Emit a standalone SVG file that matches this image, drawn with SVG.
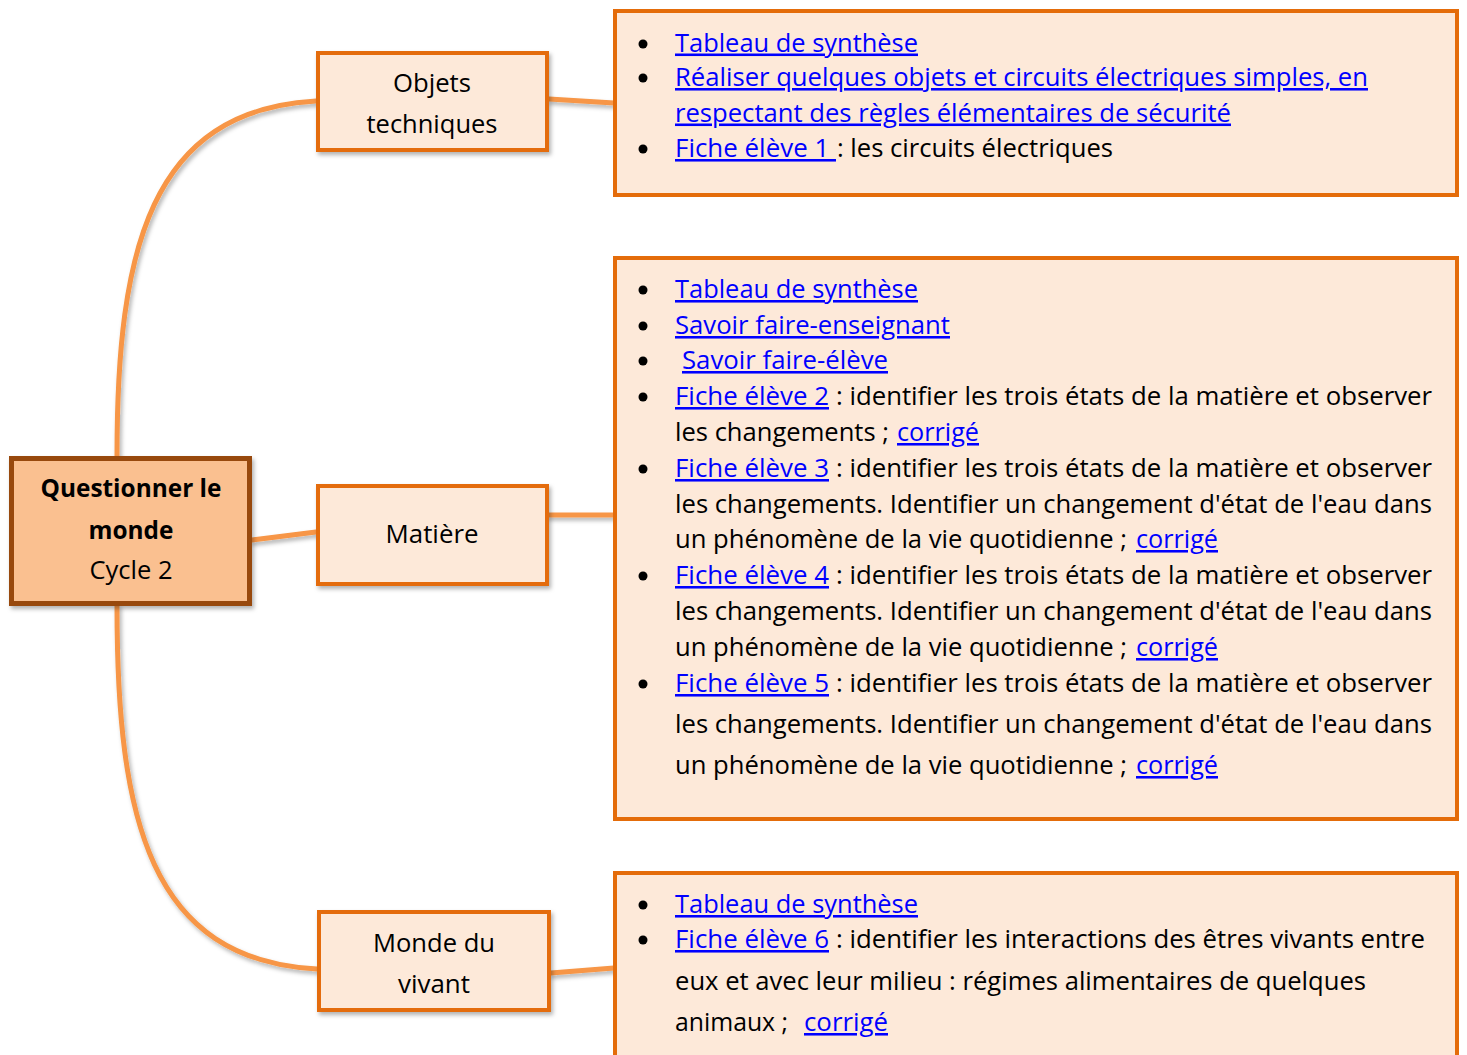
<svg xmlns="http://www.w3.org/2000/svg" width="1467" height="1055" viewBox="0 0 1467 1055">
<defs>
<style>
text{font-family:"Open Sans","Liberation Sans",sans-serif;font-size:25.5px;fill:#000000}
.a{fill:#0000FF;text-decoration:underline}
.c{text-anchor:middle}
.b{font-weight:bold}
.node{fill:#FDE9D9;stroke:#E46C0A;stroke-width:4}
.list{fill:#FDE9D9;stroke:#E46C0A;stroke-width:4}
.root{fill:#FAC090;stroke:#984807;stroke-width:5}
.conn{fill:none;stroke:#F79646;stroke-width:5;stroke-linecap:round}
.dot{fill:#000000}
</style>
<filter id="sh" x="-20%" y="-20%" width="140%" height="140%">
<feDropShadow dx="2" dy="3" stdDeviation="2" flood-color="#000000" flood-opacity="0.3"/>
</filter>
</defs>
<rect width="1467" height="1055" fill="#FFFFFF"/>

<g id="connectors" filter="url(#sh)">
<path class="conn" d="M117,456 C117,250 150,110 316,101"/>
<path class="conn" d="M117,606 C117,820 150,960 317,969"/>
<path class="conn" d="M252,540 L316,532"/>
<path class="conn" d="M549,99 L614,103"/>
<path class="conn" d="M548,515 L614,515"/>
<path class="conn" d="M551,973 L614,968"/>
</g>

<g id="root">
<rect class="root" x="11.5" y="458.5" width="238" height="145" filter="url(#sh)"/>
<text class="c b" x="131" y="497" textLength="181" lengthAdjust="spacingAndGlyphs">Questionner le</text>
<text class="c b" x="131" y="539" textLength="85" lengthAdjust="spacingAndGlyphs">monde</text>
<text class="c" x="131" y="579" textLength="83" lengthAdjust="spacingAndGlyphs">Cycle 2</text>
</g>

<g id="objets">
<rect class="node" x="318" y="53" width="229" height="97" filter="url(#sh)"/>
<text class="c" x="432" y="92" textLength="78" lengthAdjust="spacingAndGlyphs">Objets</text>
<text class="c" x="432" y="133" textLength="131" lengthAdjust="spacingAndGlyphs">techniques</text>
</g>

<g id="matiere">
<rect class="node" x="318" y="486" width="229" height="98" filter="url(#sh)"/>
<text class="c" x="432" y="543" textLength="93" lengthAdjust="spacingAndGlyphs">Matière</text>
</g>

<g id="vivant">
<rect class="node" x="319" y="912" width="230" height="98" filter="url(#sh)"/>
<text class="c" x="434" y="952" textLength="122" lengthAdjust="spacingAndGlyphs">Monde du</text>
<text class="c" x="434" y="993" textLength="72" lengthAdjust="spacingAndGlyphs">vivant</text>
</g>

<g id="list-objets">
<rect class="list" x="615" y="11" width="842" height="184"/>
<circle class="dot" cx="643" cy="44" r="4.5"/>
<circle class="dot" cx="643" cy="78" r="4.5"/>
<circle class="dot" cx="643" cy="149" r="4.5"/>
<text class="a" x="675" y="51.5" textLength="243" lengthAdjust="spacingAndGlyphs">Tableau de synthèse</text>
<text class="a" x="675" y="86" textLength="693" lengthAdjust="spacingAndGlyphs">Réaliser quelques objets et circuits électriques simples, en</text>
<text class="a" x="675" y="121.5" textLength="556" lengthAdjust="spacingAndGlyphs">respectant des règles élémentaires de sécurité</text>
<text class="a" x="675" y="157" textLength="161" lengthAdjust="spacingAndGlyphs" style="white-space:pre">Fiche élève 1 </text>
<text x="837" y="157" textLength="276" lengthAdjust="spacingAndGlyphs">: les circuits électriques</text>
</g>

<g id="list-matiere">
<rect class="list" x="615" y="258" width="842" height="561"/>
<circle class="dot" cx="643" cy="290" r="4.5"/>
<circle class="dot" cx="643" cy="326" r="4.5"/>
<circle class="dot" cx="643" cy="361" r="4.5"/>
<circle class="dot" cx="643" cy="397" r="4.5"/>
<circle class="dot" cx="643" cy="469" r="4.5"/>
<circle class="dot" cx="643" cy="576" r="4.5"/>
<circle class="dot" cx="643" cy="684" r="4.5"/>
<text class="a" x="675" y="298" textLength="243" lengthAdjust="spacingAndGlyphs">Tableau de synthèse</text>
<text class="a" x="675" y="334" textLength="275" lengthAdjust="spacingAndGlyphs">Savoir faire-enseignant</text>
<text class="a" x="682" y="369" textLength="206" lengthAdjust="spacingAndGlyphs">Savoir faire-élève</text>
<text class="a" x="675" y="405" textLength="154" lengthAdjust="spacingAndGlyphs">Fiche élève 2</text>
<text x="836" y="405" textLength="596" lengthAdjust="spacingAndGlyphs">: identifier les trois états de la matière et observer</text>
<text x="675" y="441" textLength="214" lengthAdjust="spacingAndGlyphs">les changements ;</text>
<text class="a" x="897" y="441" textLength="82" lengthAdjust="spacingAndGlyphs">corrigé</text>
<text class="a" x="675" y="477" textLength="154" lengthAdjust="spacingAndGlyphs">Fiche élève 3</text>
<text x="836" y="477" textLength="596" lengthAdjust="spacingAndGlyphs">: identifier les trois états de la matière et observer</text>
<text x="675" y="513" textLength="757" lengthAdjust="spacingAndGlyphs">les changements. Identifier un changement d'état de l'eau dans</text>
<text x="675" y="548" textLength="452" lengthAdjust="spacingAndGlyphs">un phénomène de la vie quotidienne ;</text>
<text class="a" x="1136" y="548" textLength="82" lengthAdjust="spacingAndGlyphs">corrigé</text>
<text class="a" x="675" y="584" textLength="154" lengthAdjust="spacingAndGlyphs">Fiche élève 4</text>
<text x="836" y="584" textLength="596" lengthAdjust="spacingAndGlyphs">: identifier les trois états de la matière et observer</text>
<text x="675" y="620" textLength="757" lengthAdjust="spacingAndGlyphs">les changements. Identifier un changement d'état de l'eau dans</text>
<text x="675" y="656" textLength="452" lengthAdjust="spacingAndGlyphs">un phénomène de la vie quotidienne ;</text>
<text class="a" x="1136" y="656" textLength="82" lengthAdjust="spacingAndGlyphs">corrigé</text>
<text class="a" x="675" y="692" textLength="154" lengthAdjust="spacingAndGlyphs">Fiche élève 5</text>
<text x="836" y="692" textLength="596" lengthAdjust="spacingAndGlyphs">: identifier les trois états de la matière et observer</text>
<text x="675" y="733" textLength="757" lengthAdjust="spacingAndGlyphs">les changements. Identifier un changement d'état de l'eau dans</text>
<text x="675" y="774" textLength="452" lengthAdjust="spacingAndGlyphs">un phénomène de la vie quotidienne ;</text>
<text class="a" x="1136" y="774" textLength="82" lengthAdjust="spacingAndGlyphs">corrigé</text>
</g>

<g id="list-vivant">
<rect class="list" x="615" y="873" width="842" height="200"/>
<circle class="dot" cx="643" cy="905" r="4.5"/>
<circle class="dot" cx="643" cy="940" r="4.5"/>
<text class="a" x="675" y="913" textLength="243" lengthAdjust="spacingAndGlyphs">Tableau de synthèse</text>
<text class="a" x="675" y="948" textLength="154" lengthAdjust="spacingAndGlyphs">Fiche élève 6</text>
<text x="836" y="948" textLength="589" lengthAdjust="spacingAndGlyphs">: identifier les interactions des êtres vivants entre</text>
<text x="675" y="990" textLength="691" lengthAdjust="spacingAndGlyphs">eux et avec leur milieu : régimes alimentaires de quelques</text>
<text x="675" y="1031" textLength="113" lengthAdjust="spacingAndGlyphs">animaux ;</text>
<text class="a" x="804" y="1031" textLength="84" lengthAdjust="spacingAndGlyphs">corrigé</text>
</g>
</svg>
